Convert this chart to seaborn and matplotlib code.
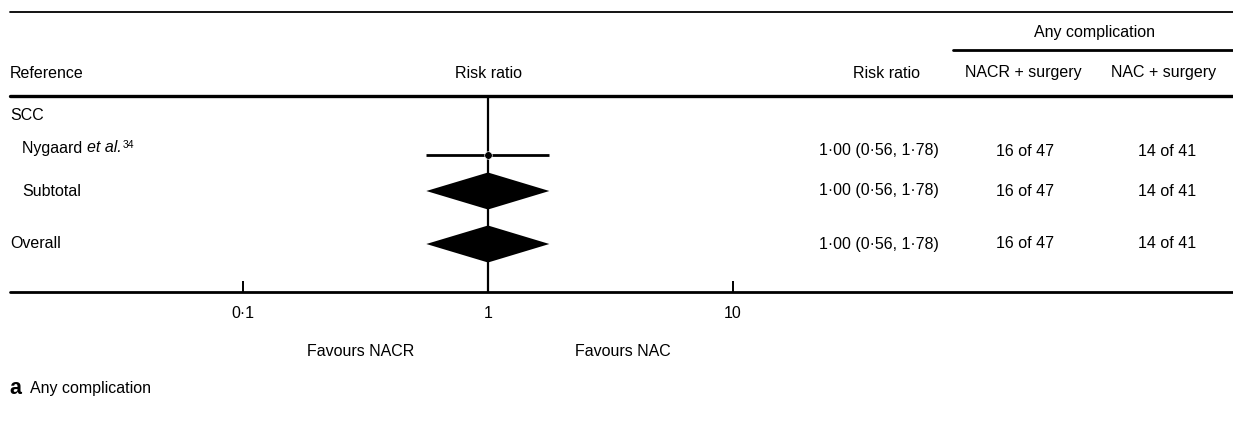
import numpy as np
import pandas as pd
import matplotlib
matplotlib.use("Agg")
import matplotlib.pyplot as plt
import seaborn as sns
from matplotlib.transforms import blended_transform_factory

# ---------------- data ----------------
row_kinds = ["group", "study", "subtotal", "overall"]
row_names = ["SCC", "Nygaard", "Subtotal", "Overall"]
rr = [np.nan, 1.00, 1.00, 1.00]
ci_low = [np.nan, 0.56, 0.56, 0.56]
ci_high = [np.nan, 1.78, 1.78, 1.78]
nacr_events = [None, 16, 16, 16]
nacr_total = [None, 47, 47, 47]
nac_events = [None, 14, 14, 14]
nac_total = [None, 41, 41, 41]
tick_values = [0.1, 1, 10]
tick_labels = ["0·1", "1", "10"]
favours_left = "Favours NACR"
favours_right = "Favours NAC"

# ---------------- layout ----------------
W, H = 1233, 430
row_y = [116, 151, 191, 244]
df = pd.DataFrame({"kind": row_kinds, "name": row_names, "rr": rr,
                   "lo": ci_low, "hi": ci_high, "y": row_y})

sns.set_theme(style="white")
plt.rcParams["font.family"] = ["Liberation Sans", "DejaVu Sans"]
plt.rcParams["text.color"] = "black"
FS = 11.5

fig = plt.figure(figsize=(W / 100, H / 100), dpi=100)
ax = fig.add_axes([0, 0, 1, 1])
ax.set_xscale("log")
ax.set_xlim(10 ** -1.992, 10 ** 3.041)
ax.set_ylim(H, 0)
ax.axis("off")
bt = blended_transform_factory(ax.transAxes, ax.transData)


def px(x):
    return x / W


# horizontal rules
ax.plot([px(10), 1], [12, 12], color="black", lw=1.3, transform=bt)
ax.plot([px(953), 1], [50, 50], color="black", lw=2.0, transform=bt)
ax.plot([px(10), 1], [96, 96], color="black", lw=2.4, transform=bt)
ax.plot([px(10), 1], [292, 292], color="black", lw=2.0, transform=bt)

# headers
ax.text(px(1094), 32, "Any complication", ha="center", va="center", fontsize=FS, transform=bt)
ax.text(px(10), 73, "Reference", ha="left", va="center", fontsize=FS, transform=bt)
ax.text(1, 73, "Risk ratio", ha="center", va="center", fontsize=FS)
ax.text(px(886), 73, "Risk ratio", ha="center", va="center", fontsize=FS, transform=bt)
ax.text(px(1023), 73, "NACR + surgery", ha="center", va="center", fontsize=FS, transform=bt)
ax.text(px(1164), 73, "NAC + surgery", ha="center", va="center", fontsize=FS, transform=bt)

# reference line at 1
ax.vlines(1, 96, 292, color="black", lw=1.6)

# axis ticks and labels
ax.vlines(tick_values, 281, 292, color="black", lw=1.4)
for tv, tl in zip(tick_values, tick_labels):
    ax.text(tv, 314, tl, ha="center", va="center", fontsize=FS)
ax.text(10 ** -0.52, 352, favours_left, ha="center", va="center", fontsize=FS)
ax.text(10 ** 0.55, 352, favours_right, ha="center", va="center", fontsize=FS)

# rows
for i, r in df.iterrows():
    y = r["y"]
    if r["kind"] == "group":
        ax.text(px(10), y, r["name"], ha="left", va="center", fontsize=FS, transform=bt)
        continue
    if r["kind"] == "study":
        t1 = ax.text(px(22), y - 3, "Nygaard ", ha="left", va="center", fontsize=FS, transform=bt)
        t2 = ax.annotate("et al.", xy=(1, 0), xycoords=t1, ha="left", va="bottom",
                         fontsize=FS, style="italic")
        ax.annotate("34", xy=(1, 1), xycoords=t2, xytext=(1, 0), textcoords="offset points",
                    ha="left", va="top", fontsize=7.5)
        ax.hlines(y + 4, r["lo"], r["hi"], color="black", lw=2.0)
    else:
        x0 = 22 if r["kind"] == "subtotal" else 10
        ax.text(px(x0), y, r["name"], ha="left", va="center", fontsize=FS, transform=bt)
        hh = 18.5
        ax.fill([r["lo"], r["rr"], r["hi"], r["rr"]], [y, y - hh, y, y + hh],
                color="black", lw=0)
    ax.text(px(879), y, f"{r['rr']:.2f} ({r['lo']:.2f}, {r['hi']:.2f})".replace(".", "·"),
            ha="center", va="center", fontsize=FS, transform=bt)
    ax.text(px(1025), y, f"{nacr_events[i]} of {nacr_total[i]}", ha="center", va="center",
            fontsize=FS, transform=bt)
    ax.text(px(1167), y, f"{nac_events[i]} of {nac_total[i]}", ha="center", va="center",
            fontsize=FS, transform=bt)

study = df[df["kind"] == "study"].copy()
study["y"] = study["y"] + 4
sns.scatterplot(data=study, x="rr", y="y", ax=ax, color="black", s=30, legend=False, zorder=5)
ax.set_xlabel("")
ax.set_ylabel("")

# caption
ax.text(px(9), 388, "a", ha="left", va="center", fontsize=15.5, fontweight="bold", transform=bt)
ax.text(px(30), 389, "Any complication", ha="left", va="center", fontsize=FS, transform=bt)

fig.savefig("out.png", dpi=100)
